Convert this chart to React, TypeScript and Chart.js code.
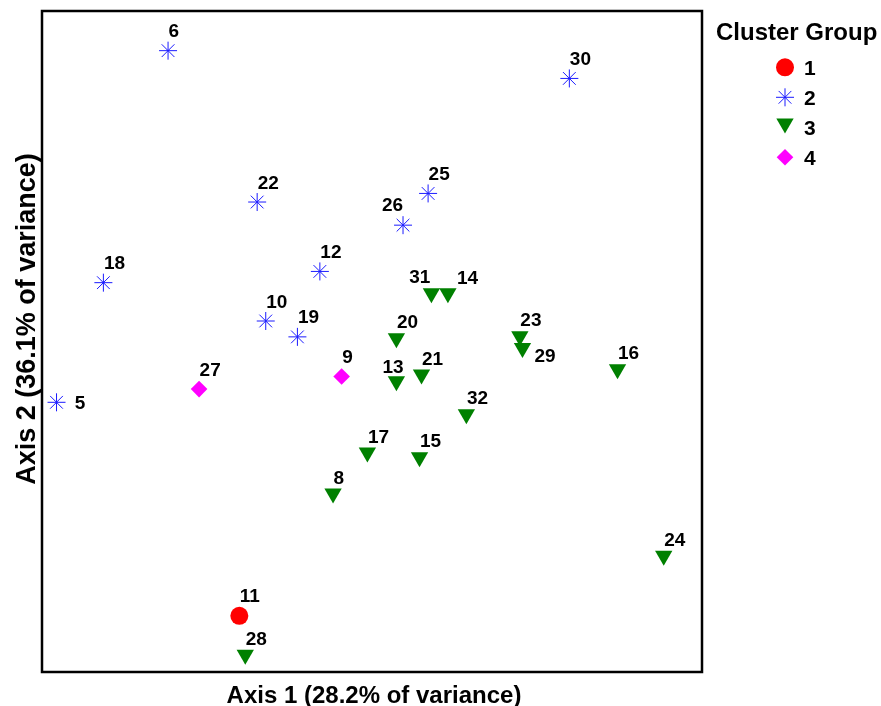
import React, { useEffect, useRef } from 'react';
import { Chart, registerables } from 'chart.js';
import { drawPoint } from 'chart.js/helpers';

Chart.register(...registerables);

// ---- Data (ordination scores; arbitrary 0-100 units) ----
const clusterNames = ['1', '2', '3', '4'];

const cluster1Labels = ['11'];
const cluster1X = [29.9];
const cluster1Y = [8.5];

const cluster2Labels = ['6', '30', '22', '25', '26', '12', '18', '10', '19', '5'];
const cluster2X = [19.1, 79.9, 32.6, 58.5, 54.7, 42.1, 9.3, 33.9, 38.7, 2.2];
const cluster2Y = [94.0, 89.8, 71.1, 72.4, 67.6, 60.6, 58.9, 53.1, 50.7, 40.8];

const cluster3Labels = ['31', '14', '20', '23', '29', '16', '13', '21', '32', '17', '15', '8', '24', '28'];
const cluster3X = [59.0, 61.5, 53.7, 72.4, 72.8, 87.2, 53.7, 57.5, 64.3, 49.3, 57.2, 44.1, 94.2, 30.8];
const cluster3Y = [57.3, 57.3, 50.5, 50.8, 49.0, 45.8, 44.0, 45.0, 39.0, 33.2, 32.5, 27.0, 17.6, 2.6];

const cluster4Labels = ['27', '9'];
const cluster4X = [23.8, 45.4];
const cluster4Y = [42.8, 44.7];

const axisXTitle = 'Axis 1 (28.2% of variance)';
const axisYTitle = 'Axis 2 (36.1% of variance)';
const legendTitle = 'Cluster Group';

// ---- Styles ----
const FONT = '"Liberation Sans", Arial, Helvetica, sans-serif';
const styles = [
  { color: '#ff0000', pointStyle: 'circle', radius: 9, rotation: 0, borderWidth: 0, labelDy: -13.5 },
  { color: '#1a1aff', pointStyle: 'star', radius: 9, rotation: 0, borderWidth: 1, labelDy: -13.5 },
  { color: '#008000', pointStyle: 'triangle', radius: 10, rotation: 180, borderWidth: 0, labelDy: -10 },
  { color: '#ff00ff', pointStyle: 'rectRot', radius: 8.3, rotation: 0, borderWidth: 0, labelDy: -13.5 },
];
// label placement overrides (dx, dy relative to marker centre)
const labelOverrides: Record<string, { dx: number; dy: number; align: CanvasTextAlign }> = {
  '26': { dx: 0, dy: -14.3, align: 'right' },
  '31': { dx: -1, dy: -10.6, align: 'right' },
  '14': { dx: 9, dy: -9.3, align: 'left' },
  '29': { dx: 12, dy: 14, align: 'left' },
  '13': { dx: -14, dy: -7.7, align: 'left' },
  '5': { dx: 18.3, dy: 6.7, align: 'left' },
};

const groups = [
  { labels: cluster1Labels, xs: cluster1X, ys: cluster1Y },
  { labels: cluster2Labels, xs: cluster2X, ys: cluster2Y },
  { labels: cluster3Labels, xs: cluster3X, ys: cluster3Y },
  { labels: cluster4Labels, xs: cluster4X, ys: cluster4Y },
];

const decorPlugin = {
  id: 'decor',
  afterDatasetsDraw(chart: any) {
    const ctx: CanvasRenderingContext2D = chart.ctx;
    const area = chart.chartArea;
    ctx.save();
    // frame
    ctx.strokeStyle = '#000';
    ctx.lineWidth = 2.5;
    ctx.strokeRect(area.left, area.top, area.right - area.left, area.bottom - area.top);

    // point labels
    ctx.fillStyle = '#000';
    ctx.font = `bold 19px ${FONT}`;
    ctx.textBaseline = 'alphabetic';
    chart.data.datasets.forEach((ds: any, di: number) => {
      const meta = chart.getDatasetMeta(di);
      meta.data.forEach((el: any, i: number) => {
        const lab = ds.data[i].label;
        const ov = labelOverrides[lab];
        const dx = ov ? ov.dx : 0.5;
        const dy = ov ? ov.dy : styles[di].labelDy;
        ctx.textAlign = ov ? ov.align : 'left';
        ctx.fillText(lab, el.x + dx, el.y + dy);
      });
    });

    // axis titles
    ctx.font = `bold 24px ${FONT}`;
    ctx.textAlign = 'center';
    ctx.fillText(axisXTitle, (area.left + area.right) / 2 + 2, 702.5);
    ctx.save();
    ctx.font = `bold 27px ${FONT}`;
    ctx.translate(35, 319);
    ctx.rotate(-Math.PI / 2);
    ctx.fillText(axisYTitle, 0, 0);
    ctx.restore();

    // legend
    ctx.textAlign = 'left';
    ctx.font = `bold 24px ${FONT}`;
    ctx.fillText(legendTitle, 716, 39.5);
    ctx.font = `bold 21px ${FONT}`;
    clusterNames.forEach((name, i) => {
      const st = styles[i];
      const baseline = 75 + i * 30;
      const my = st.pointStyle === 'triangle' ? baseline - 11.5 : baseline - 7.7;
      ctx.fillStyle = st.color;
      ctx.strokeStyle = st.color;
      ctx.lineWidth = st.borderWidth || 1;
      drawPoint(ctx, { pointStyle: st.pointStyle, rotation: st.rotation, radius: st.radius, borderWidth: st.borderWidth } as any, 785, my);
      ctx.fillStyle = '#000';
      ctx.fillText(name, 804, baseline);
    });
    ctx.restore();
  },
};

export default function App() {
  const ref = useRef<HTMLCanvasElement>(null);
  useEffect(() => {
    document.body.style.margin = '0';
    const canvas = ref.current!;
    const datasets = groups.map((g, gi) => {
      const st = styles[gi];
      return {
        label: clusterNames[gi],
        data: g.labels.map((lab, i) => ({ x: g.xs[i], y: g.ys[i], label: lab })),
        pointStyle: st.pointStyle,
        pointRadius: st.radius,
        pointRotation: st.rotation,
        pointBackgroundColor: st.color,
        pointBorderColor: st.color,
        pointBorderWidth: st.borderWidth,
        showLine: false,
        clip: false as any,
      };
    });
    const chart = new Chart(canvas, {
      type: 'scatter',
      data: { datasets: datasets as any },
      options: {
        responsive: false,
        animation: false,
        layout: { padding: { left: 42, top: 11, right: 179, bottom: 34 } },
        scales: {
          x: { display: false, min: 0, max: 100 },
          y: { display: false, min: 0, max: 100 },
        },
        plugins: { legend: { display: false }, tooltip: { enabled: false } },
      },
      plugins: [decorPlugin],
    });
    return () => chart.destroy();
  }, []);
  return <canvas ref={ref} width={881} height={706} style={{ display: 'block' }} />;
}
